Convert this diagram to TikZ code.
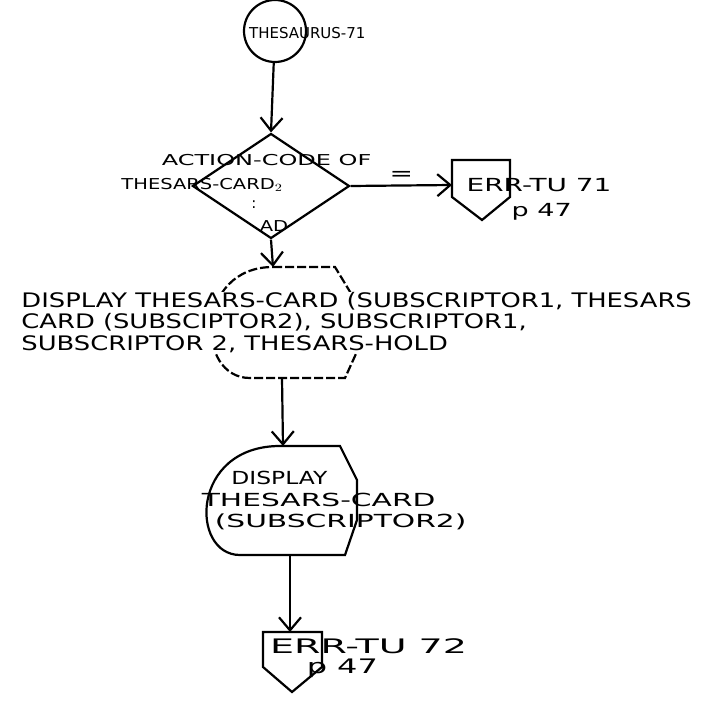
\documentclass[tikz,border=0pt]{standalone}
\usepackage{fontspec}
\setmainfont{DejaVu Sans}
\usetikzlibrary{arrows.meta, shapes.geometric}

\begin{document}
\begin{tikzpicture}[x=1pt, y=-1pt, line width=2.2pt,
    flow/.style={-{Straight Barb[length=13pt, width=22pt, line width=2.2pt]}},
    hand/.style={inner sep=0pt, font=\fontsize{20}{21.5}\selectfont},
    small/.style={inner sep=0pt, font=\fontsize{15}{16}\selectfont},
    mid/.style={inner sep=0pt, font=\fontsize{18}{19}\selectfont}]
    \useasboundingbox (0,0) rectangle (705,701);

    \node[circle, draw, minimum size=62pt, inner sep=0pt] (conn) at (275,31) {};
    \node[small, anchor=west] (conntxt) at (248,33) {THESAURUS-71};

    \node[diamond, draw, aspect=1.5, minimum width=157pt, minimum height=105pt, inner sep=0pt] (dec) at (271,186) {};
    \node[small, anchor=west, xscale=1.6] (dec1) at (160,160) {ACTION-CODE OF};
    \node[small, anchor=west, xscale=1.3] (dec2) at (120,185) {THESARS-CARD$_2$};
    \node[small] (dec3) at (254,205) {:};
    \node[small, xscale=1.3] (dec4) at (274,226) {AD};

    % off-page connectors
    \draw (452,160)--(510,160)--(510,197)--(482,220)--(452,197)--cycle;
    \coordinate (err71) at (452,185);
    \node[mid, anchor=west, xscale=1.55] (err71txt) at (465,185) {ERR-TU 71};
    \node[mid, anchor=west, xscale=1.5] (err71p) at (510,212) {p 47};

    \draw (263,632)--(322,632)--(322,667)--(292,692)--(263,667)--cycle;
    \coordinate (err72) at (290,632);
    \node[hand, anchor=west, xscale=1.9] (err72txt) at (268,646) {ERR-TU 72};
    \node[hand, anchor=west, xscale=1.6] (err72p) at (305,668) {p 47};

    % display boxes
    \draw[dash pattern=on 9pt off 3pt] (273,267)--(335,267)--(355,300)--(360,345)--(345,378)--(250,378)
        .. controls (195,378) and (195,267) .. (273,267);
    \coordinate (disp1top) at (273,267);
    \coordinate (disp1bot) at (282,378);
    \node[hand, anchor=north west, align=left, fill=white, xscale=1.29] (disp1) at (20,291)
        {DISPLAY THESARS-CARD (SUBSCRIPTOR1, THESARS\\CARD (SUBSCIPTOR2), SUBSCRIPTOR1,\\SUBSCRIPTOR 2, THESARS-HOLD};

    \draw (280,446)--(340,446)--(357,480)--(357,520)--(345,555)--(240,555)
        .. controls (190,555) and (190,446) .. (280,446);
    \coordinate (disp2top) at (283,446);
    \coordinate (disp2bot) at (290,555);
    \node[mid, anchor=west, xscale=1.3] (disp2a) at (230,478) {DISPLAY};
    \node[mid, anchor=west, xscale=1.65] (disp2b) at (200,500) {THESARS-CARD};
    \node[mid, anchor=west, xscale=1.65] (disp2c) at (213,522) {(SUBSCRIPTOR2)};

    \draw[flow] (conn) -- (dec.north);
    \draw[flow] (dec.east) -- node[hand, above=4pt, xscale=1.4] (eq) {=} (err71);
    \draw[flow] (dec.south) -- (disp1top);
    \draw[flow] (disp1bot) -- (disp2top);
    \draw[flow] (disp2bot) -- (err72);
\end{tikzpicture}
\end{document}
